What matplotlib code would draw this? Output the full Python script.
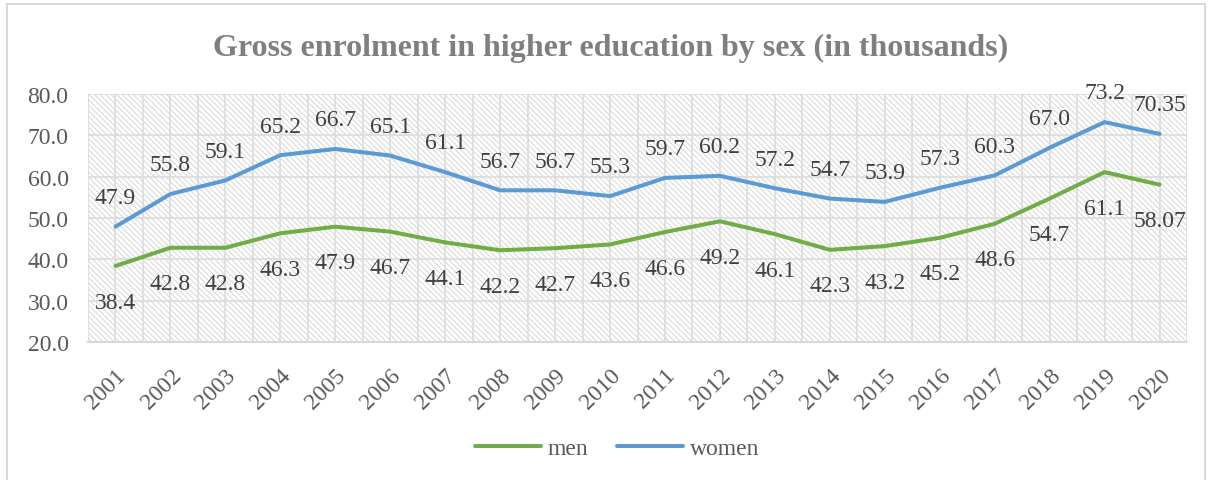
import numpy as np
import matplotlib
matplotlib.use("Agg")
import matplotlib.pyplot as plt
from matplotlib.patches import Rectangle

years = [str(y) for y in range(2001, 2021)]
men = [38.4, 42.8, 42.8, 46.3, 47.9, 46.7, 44.1, 42.2, 42.7, 43.6,
       46.6, 49.2, 46.1, 42.3, 43.2, 45.2, 48.6, 54.7, 61.1, 58.07]
women = [47.9, 55.8, 59.1, 65.2, 66.7, 65.1, 61.1, 56.7, 56.7, 55.3,
         59.7, 60.2, 57.2, 54.7, 53.9, 57.3, 60.3, 67.0, 73.2, 70.35]
y_ticks = [20, 30, 40, 50, 60, 70, 80]


def fmt(v):
    return f"{v:.1f}" if round(v, 1) == v else f"{v:.2f}"


plt.rcParams["font.family"] = ["Liberation Serif", "DejaVu Serif"]
plt.rcParams["hatch.linewidth"] = 0.7

FS = 17

fig = plt.figure(figsize=(12.13, 4.81), dpi=100)

# outer chart frame
fig.patches.append(Rectangle((7 / 1213, -0.05), 1198 / 1213, 1.05 - 5 / 481,
                             transform=fig.transFigure, fill=False,
                             edgecolor="#d9d9d9", linewidth=1.5))

ax = fig.add_axes([88 / 1213, 1 - 343 / 481, 1099 / 1213, 248 / 481])
x = np.arange(len(years))

ax.add_patch(Rectangle((0, 0), 1, 1, transform=ax.transAxes, facecolor="white",
                       edgecolor="#d6d6d6", hatch="\\" * 6, linewidth=0, zorder=0))

ax.plot(x, men, color="#70AD47", lw=2.9, label="men", zorder=3,
        solid_capstyle="round")
ax.plot(x, women, color="#5B9BD5", lw=2.9, label="women", zorder=3,
        solid_capstyle="round")

for xi, v in zip(x, women):
    ax.annotate(fmt(v), (xi, v), xytext=(0, 21), textcoords="offset points",
                ha="center", va="center", fontsize=FS, color="#404040")
for xi, v in zip(x, men):
    ax.annotate(fmt(v), (xi, v), xytext=(0, -26), textcoords="offset points",
                ha="center", va="center", fontsize=FS, color="#404040")

ax.set_xlim(-0.5, len(years) - 0.5)
ax.set_ylim(20, 80)
ax.set_yticks(y_ticks)
ax.set_yticklabels([f"{t:.1f}" for t in y_ticks], fontsize=FS, color="#595959")
ax.set_xticks(x)
ax.set_xticklabels(years, rotation=45, ha="right", rotation_mode="anchor",
                   fontsize=FS, color="#595959")
ax.set_xticks(np.arange(-0.5, len(years), 1.0), minor=True)
ax.tick_params(axis="both", which="both", length=0)
ax.tick_params(axis="y", pad=14)
ax.tick_params(axis="x", pad=16)

ax.grid(True, which="both", axis="x", color="#dcdcdc", lw=1.2, zorder=1)
ax.grid(True, which="major", axis="y", color="#dcdcdc", lw=1.2, zorder=1)
ax.set_axisbelow(True)
for side in ["top", "right", "left"]:
    ax.spines[side].set_visible(False)
ax.spines["bottom"].set_color("#d9d9d9")
ax.spines["bottom"].set_linewidth(1.5)

fig.text(0.503, 1 - 48 / 481, "Gross enrolment in higher education by sex (in thousands)",
         ha="center", va="center", fontsize=23, fontweight="bold", color="#7f7f7f")

fig.legend(loc="center", bbox_to_anchor=(617 / 1213, 1 - 449 / 481), ncol=2,
           frameon=False, fontsize=FS, labelcolor="#595959",
           handlelength=2.8, handletextpad=0.3, columnspacing=1.2)

fig.savefig("out.png", dpi=100)
